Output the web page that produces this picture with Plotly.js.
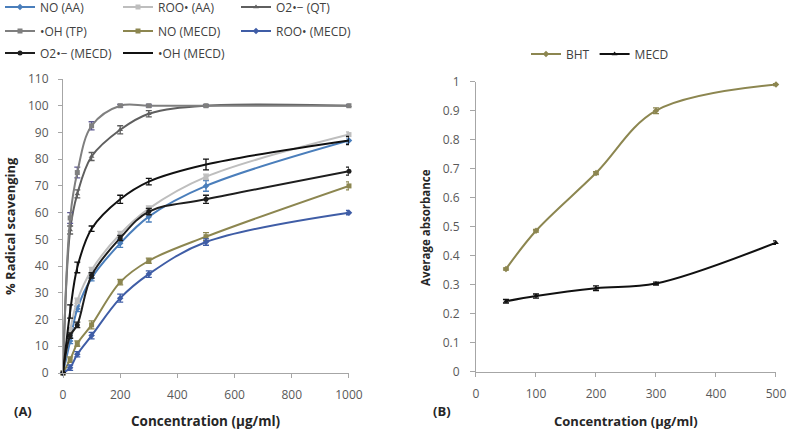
<!DOCTYPE html>
<html><head><meta charset="utf-8">
<script src="https://cdn.plot.ly/plotly-3.0.1.min.js"></script>
<style>html,body{margin:0;padding:0;background:#fff}#chart{width:789px;height:431px}</style>
</head><body><div id="chart"></div>
<script>
// ---- Panel A data ----
const concA = [0, 25, 50, 100, 200, 300, 500, 1000];
const noAA      = [0, 12, 24, 35.5, 48.5, 58.5, 70, 87];
const noAAErr   = [0, 1, 1, 1, 1.5, 2, 2, 1];
const rooAA     = [0, 16, 27, 38.5, 52, 61.5, 73.4, 89.2];
const rooAAErr  = [0, 1, 1, 1, 1, 1, 1, 1];
const o2QT      = [0, 53.5, 67, 81, 91, 97, 100, 100];
const o2QTErr   = [0, 1.5, 1.5, 1.5, 1.5, 1.2, 0.3, 0.3];
const ohTP      = [0, 58, 75, 92.5, 100, 100, 100, 100];
const ohTPErr   = [0, 2, 2, 1.5, 0.5, 0.5, 0.3, 0.3];
const noMECD    = [0, 5, 11, 18, 34, 42, 51, 70];
const noMECDErr = [0, 1, 1, 1.5, 1, 1, 1.5, 1.5];
const rooMECD   = [0, 2, 7, 14, 28, 37, 49, 60];
const rooMECDErr= [0, 1, 1, 1.2, 1.5, 1.2, 1.2, 0.8];
const o2MECD    = [0, 14, 18, 36.5, 50.5, 60.4, 65, 75.5];
const o2MECDErr = [0, 1, 1, 1, 1, 1.2, 1.5, 1.5];
const ohMECD    = [0, 23, 39.5, 54, 65, 71.6, 78, 87];
const ohMECDErr = [0, 2.5, 2, 1, 1.5, 1.2, 2, 1.5];
const yTicksA = [0,10,20,30,40,50,60,70,80,90,100,110];
const xTicksA = [0,200,400,600,800,1000];

// ---- Panel B data ----
const concB = [50, 100, 200, 300, 500];
const bht    = [0.355, 0.487, 0.686, 0.901, 0.991];
const bhtErr = [0.004, 0.005, 0.005, 0.01, 0.003];
const mecd    = [0.244, 0.262, 0.289, 0.305, 0.446];
const mecdErr = [0.006, 0.007, 0.008, 0.005, 0.006];
const yTicksB = [0,0.1,0.2,0.3,0.4,0.5,0.6,0.7,0.8,0.9,1];
const xTicksB = [0,100,200,300,400,500];

const F = '"Open Sans", "Noto Sans", sans-serif';
const AX = '#A6A6A6';
const TXT = '#595959';

function ser(name, x, y, err, color, symbol, legend, errColor, axes) {
  return {
    type: 'scatter', mode: symbol ? 'lines+markers' : 'lines', name: name,
    x: x, y: y, legend: legend,
    xaxis: axes ? axes[0] : 'x', yaxis: axes ? axes[1] : 'y',
    line: {color: color, width: 2, shape: 'spline', smoothing: 1},
    marker: {symbol: symbol || 'circle', size: 5, color: color},
    error_y: {type: 'data', array: err, visible: true, color: errColor || color, thickness: 1.3, width: 3},
    hoverinfo: 'skip', cliponaxis: false
  };
}

const traces = [
  ser('NO (AA)', concA, noAA, noAAErr, '#4A7EBB', 'diamond', 'legend'),
  ser('ROO• (AA)', concA, rooAA, rooAAErr, '#BEBEBE', 'square', 'legend'),
  ser('O2•− (QT)', concA, o2QT, o2QTErr, '#5F5F5F', 'triangle-up', 'legend'),
  ser('•OH (TP)', concA, ohTP, ohTPErr, '#7F7F7F', 'square', 'legend2', '#5E5A92'),
  ser('NO (MECD)', concA, noMECD, noMECDErr, '#8C8650', 'square', 'legend2'),
  ser('ROO• (MECD)', concA, rooMECD, rooMECDErr, '#3F5DA6', 'diamond', 'legend2'),
  ser('O2•− (MECD)', concA, o2MECD, o2MECDErr, '#1E1E1E', 'circle', 'legend3'),
  ser('•OH (MECD)', concA, ohMECD, ohMECDErr, '#111111', null, 'legend3'),
  ser('BHT', concB, bht, bhtErr, '#8C8650', 'diamond', 'legend4', null, ['x2','y2']),
  ser('MECD', concB, mecd, mecdErr, '#111111', 'triangle-up', 'legend4', null, ['x2','y2'])
];

const legBase = {
  orientation: 'h', xref: 'container', yref: 'container', xanchor: 'left', yanchor: 'middle',
  font: {family: F, size: 12, color: '#404040'}, bgcolor: 'rgba(0,0,0,0)',
  itemwidth: 30, traceorder: 'normal', itemclick: false, itemdoubleclick: false
};

function axisBase(range, ticks, domain, anchor) {
  return {
    range: range, tickmode: 'array', tickvals: ticks, domain: domain, anchor: anchor,
    showgrid: false, zeroline: false, showline: true, linecolor: AX, linewidth: 1,
    ticks: 'outside', ticklen: 4, tickcolor: AX, tickwidth: 1,
    tickfont: {family: F, size: 12, color: TXT}, fixedrange: true
  };
}

const layout = {
  width: 789, height: 431,
  margin: {l: 63, r: 13, t: 79, b: 58, pad: 0},
  paper_bgcolor: '#fff', plot_bgcolor: 'rgba(0,0,0,0)',
  font: {family: F, color: TXT},
  showlegend: true,
  legend:  Object.assign({}, legBase, {x: 0, y: 1 - 7/431, entrywidth: 73, entrywidthmode: 'pixels'}),
  legend2: Object.assign({}, legBase, {x: 0, y: 1 - 31/431, entrywidth: 73, entrywidthmode: 'pixels'}),
  legend3: Object.assign({}, legBase, {x: 0, y: 1 - 53/431, entrywidth: 73, entrywidthmode: 'pixels'}),
  legend4: Object.assign({}, legBase, {x: 526/789, y: 1 - 54/431}),
  xaxis: Object.assign(axisBase([0, 1000], xTicksA, [0, 0.4011], 'y'), {ticklabelstandoff: 7}),
  yaxis: Object.assign(axisBase([0, 110], yTicksA, [0, 1], 'x'), {ticklabelstandoff: 7}),
  xaxis2: Object.assign(axisBase([0, 500], xTicksB, [0.5792, 1], 'y2'), {ticklabelstandoff: 7}),
  yaxis2: Object.assign(axisBase([0, 1], yTicksB, [0.0034, 0.9898], 'x2'), {ticklabelstandoff: 8, ticklen: 5}),
  annotations: [
    {text: '<b>% Radical scavenging</b>', xref: 'paper', yref: 'y domain', x: (10-63)/713, y: 0.5,
     textangle: -90, showarrow: false, font: {family: F, size: 13, color: '#262626'}, xanchor: 'center', yanchor: 'middle'},
    {text: '<b>Average absorbance</b>', xref: 'x2 domain', yref: 'y2 domain', x: (426-476)/300, y: 0.5,
     textangle: -90, showarrow: false, font: {family: F, size: 11.5, color: '#262626'}, xanchor: 'center', yanchor: 'middle'},
    {text: '<b>Concentration (µg/ml)</b>', xref: 'x domain', yref: 'paper', x: 0.5, y: (373-421)/294,
     showarrow: false, font: {family: F, size: 13.5, color: '#262626'}, xanchor: 'center', yanchor: 'middle'},
    {text: '<b>Concentration (µg/ml)</b>', xref: 'x2 domain', yref: 'paper', x: 0.5, y: (373-421)/294,
     showarrow: false, font: {family: F, size: 13, color: '#262626'}, xanchor: 'center', yanchor: 'middle'},
    {text: '<b>(A)</b>', xref: 'paper', yref: 'paper', x: (23-63)/713, y: (373-411)/294,
     showarrow: false, font: {family: F, size: 13, color: '#262626'}, xanchor: 'center', yanchor: 'middle'},
    {text: '<b>(B)</b>', xref: 'paper', yref: 'paper', x: (442-63)/713, y: (373-411)/294,
     showarrow: false, font: {family: F, size: 13, color: '#262626'}, xanchor: 'center', yanchor: 'middle'}
  ]
};

Plotly.newPlot('chart', traces, layout, {displayModeBar: false, staticPlot: true});
</script>
</body></html>
